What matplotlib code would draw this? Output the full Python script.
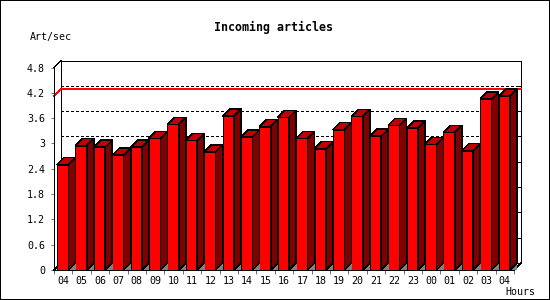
import numpy as np
import matplotlib
matplotlib.use('Agg')
import matplotlib.pyplot as plt
from matplotlib.patches import Polygon, Rectangle

plt.rcParams['lines.scale_dashes'] = False
plt.rcParams['patch.antialiased'] = False
plt.rcParams['lines.antialiased'] = False

# -------------------------------------------------------------
# Data
# -------------------------------------------------------------
hours = ['04', '05', '06', '07', '08', '09', '10', '11', '12', '13',
         '14', '15', '16', '17', '18', '19', '20', '21', '22', '23',
         '00', '01', '02', '03', '04']
rate = [2.50, 2.95, 2.91, 2.72, 2.91, 3.12, 3.45, 3.07, 2.80, 3.65,
        3.15, 3.40, 3.62, 3.12, 2.875, 3.33, 3.64, 3.17, 3.43, 3.36,
        2.98, 3.26, 2.83, 4.05, 4.12]
ytick_vals = [0, 0.6, 1.2, 1.8, 2.4, 3.0, 3.6, 4.2, 4.8]
ytick_txt = ['0', '0.6', '1.2', '1.8', '2.4', '3', '3.6', '4.2', '4.8']
peak = max(rate)

# -------------------------------------------------------------
# Style
# -------------------------------------------------------------
FRONT = '#ff0000'
TOP = '#c00000'
SIDE = '#800000'
FLOOR = '#808080'
LW = 0.4           # thin 1 px lines (aliased)
DEPTH = 7          # 3d depth in pixels
MONO = 'DejaVu Sans Mono'

fig = plt.figure(figsize=(5.5, 3), dpi=100)
ax = fig.add_axes([54/550, 30/300, 460/550, 202.5/300])
ax.set_facecolor('none')

x = np.arange(len(hours))
ax.set_xlim(-0.5, len(hours) - 0.5)
ax.set_ylim(0, 4.8)

# pixel -> data conversion for the 3d offset
p0 = ax.transData.transform((0, 0))
p1 = ax.transData.transform((1, 1))
sx, sy = p1[0] - p0[0], p1[1] - p0[1]
dx, dy = DEPTH / sx, DEPTH / sy
off = 3 / sx
bw = 1 - dx
x0, x1 = -0.5, len(hours) - 0.5

# back plane
ax.add_patch(Rectangle((x0 + dx, dy), x1 - x0, 4.8, facecolor='white',
                       edgecolor='black', lw=LW, clip_on=False, zorder=0.5))
for v in ytick_vals[1:-1]:
    ax.plot([x0 + dx, x1 + dx], [v + dy, v + dy], color='black', lw=LW,
            dashes=(1.5, 1.5), clip_on=False, zorder=1)
for v in ytick_vals:
    ax.plot([x1 + dx - 3 / sx, x1 + dx], [v + dy, v + dy], color='black',
            lw=LW, clip_on=False, zorder=1)
ax.plot([x0, x0 + dx, x1 + dx], [peak, peak + dy, peak + dy], color='red',
        lw=LW, clip_on=False, zorder=1.2)

# frame diagonals
for xa, ya in [(x0, 4.8), (x0, 0), (x1, 0)]:
    ax.plot([xa, xa + dx], [ya, ya + dy], color='black', lw=LW,
            clip_on=False, zorder=1.1)

# bars
left = x - 0.5 + off
ax.bar(left, rate, width=bw, align='edge', color=FRONT, edgecolor='black',
       lw=LW, zorder=2)
for l, h in zip(left, rate):
    r = l + bw
    ax.add_patch(Polygon([(r, 0), (r + dx, dy), (r + dx, 0)],
                         facecolor=FLOOR, edgecolor='none', zorder=2, clip_on=False))
    ax.add_patch(Polygon([(r, 0), (r + dx, dy), (r + dx, h + dy), (r, h)],
                         facecolor=SIDE, edgecolor='black', lw=LW, zorder=2, clip_on=False))
    ax.add_patch(Polygon([(l, h), (r, h), (r + dx, h + dy), (l + dx, h + dy)],
                         facecolor=TOP, edgecolor='black', lw=LW, zorder=2, clip_on=False))

# axes
for s in ['top', 'right']:
    ax.spines[s].set_visible(False)
for s in ['left', 'bottom']:
    ax.spines[s].set_linewidth(LW)
    ax.spines[s].set_zorder(3)

ax.set_yticks(ytick_vals, ytick_txt)
ax.tick_params(axis='y', length=2.2, width=LW, pad=4.3, labelsize=7.2)
ax.set_xticks(x, hours)
ax.set_xticks(np.arange(len(hours) + 1) - 0.5, minor=True)
ax.tick_params(axis='x', which='major', length=0, pad=4.5, labelsize=7.2)
ax.tick_params(axis='x', which='minor', length=3, width=LW)
for lab in ax.get_xticklabels() + ax.get_yticklabels():
    lab.set_family(MONO)

fig.text(274/550, 1 - 27/300, 'Incoming articles', ha='center', va='center',
         family=MONO, fontweight='bold', fontsize=8.4)
fig.text(30/550, 1 - 37/300, 'Art/sec', ha='left', va='center',
         family=MONO, fontsize=7.2)
fig.text(505/550, 1 - 292/300, 'Hours', ha='left', va='center',
         family=MONO, fontsize=7.2)

fig.add_artist(Rectangle((0, 0), 1, 1, transform=fig.transFigure, fill=False,
                         edgecolor='black', lw=1.44))

fig.savefig('out.png', dpi=100)
